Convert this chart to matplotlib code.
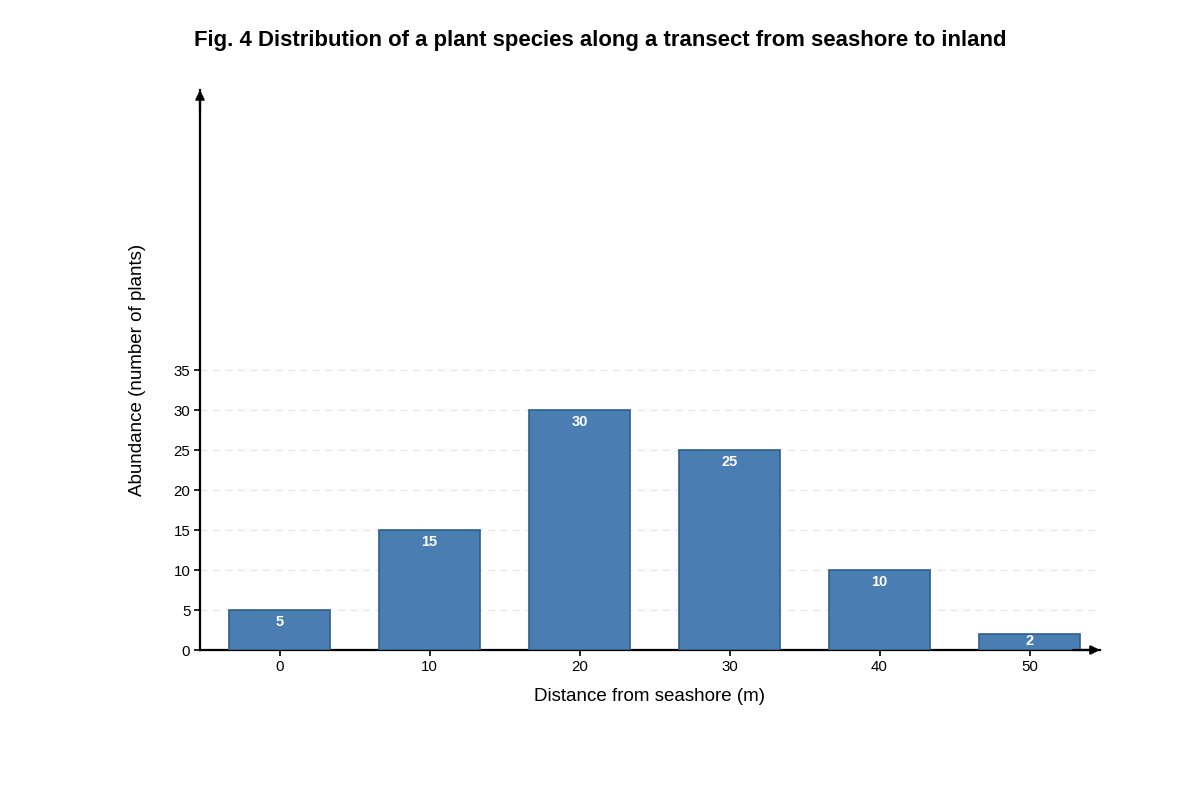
import numpy as np
import matplotlib.pyplot as plt

plt.rcParams['font.family'] = ['Liberation Sans', 'DejaVu Sans']

# datos
distancia = ['0', '10', '20', '30', '40', '50']
abundancia = [5, 15, 30, 25, 10, 2]
yticks = [0, 5, 10, 15, 20, 25, 30, 35]

fig = plt.figure(figsize=(12, 8), dpi=100)
ax = fig.add_axes([200/1200, 150/800, 900/1200, 560/800])

x = np.arange(len(distancia))
ax.bar(x, abundancia, width=0.667, color='#4a7eb3', edgecolor='#2f5f8a', linewidth=1.2, zorder=3)
for xi, v in zip(x, abundancia):
    ax.text(xi, max(v - 1.45, v * 0.55), str(v), ha='center', va='center', color='white',
            fontsize=10.5, fontweight='bold', zorder=4)

# rejilla punteada
for t in yticks[1:]:
    ax.axhline(t, color='#e6e6e6', linestyle=(0, (5, 4)), linewidth=1, zorder=1)

ax.set_xlim(-0.53, 5.47)
ax.set_ylim(0, 70)
ax.set_xticks(x)
ax.set_xticklabels(distancia)
ax.set_yticks(yticks)
ax.tick_params(labelsize=10.8, width=1.2, length=4, colors='black', pad=3)

for s in ['top', 'right']:
    ax.spines[s].set_visible(False)
for s in ['left', 'bottom']:
    ax.spines[s].set_linewidth(1.6)

# flechas de los ejes
flecha = dict(arrowstyle='-|>', color='black', lw=1.6, mutation_scale=13, shrinkA=0, shrinkB=0)
ax.annotate('', xy=(1.0, 0), xytext=(0.97, 0), xycoords='axes fraction', arrowprops=flecha,
            annotation_clip=False)
ax.annotate('', xy=(0, 1.0), xytext=(0, 0.96), xycoords='axes fraction', arrowprops=flecha,
            annotation_clip=False)

ax.set_xlabel('Distance from seashore (m)', fontsize=13.5, labelpad=10)
ax.set_ylabel('Abundance (number of plants)', fontsize=13.5, labelpad=20)
fig.suptitle('Fig. 4 Distribution of a plant species along a transect from seashore to inland',
             fontsize=15.9, fontweight='bold', y=0.963)

fig.savefig('out.png', dpi=100)
